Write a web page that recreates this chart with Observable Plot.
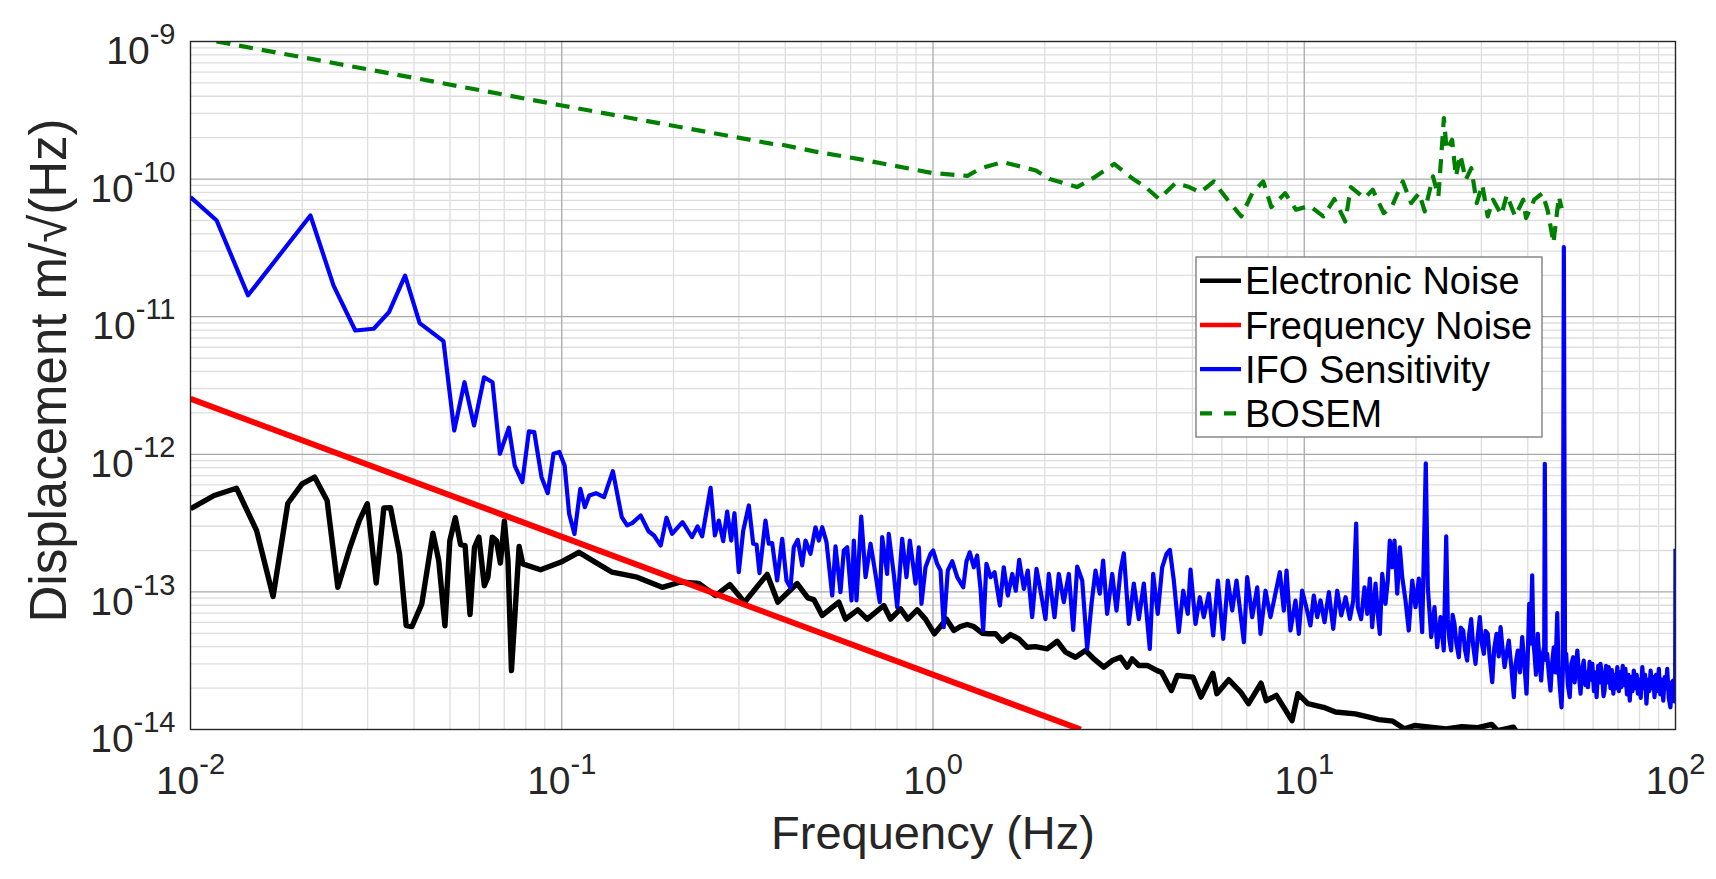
<!DOCTYPE html>
<html><head><meta charset="utf-8">
<script src="https://cdn.jsdelivr.net/npm/d3@7"></script>
<script src="https://cdn.jsdelivr.net/npm/@observablehq/plot@0.6"></script>
<style>
html,body{margin:0;padding:0;background:#fff;}
#wrap{position:relative;width:1716px;height:879px;overflow:hidden;background:#fff;}
</style></head><body><div id="wrap"></div>
<script>
// ---------- data (frequency Hz, displacement m/sqrt(Hz)) ----------
const electronicNoise = [[0.01,4.02e-13],[0.01158,5.02e-13],[0.0133,5.67e-13],[0.01507,2.79e-13],[0.01669,9.26e-14],[0.01829,4.41e-13],[0.01998,6.1e-13],[0.0216,6.82e-13],[0.02333,4.62e-13],[0.02494,1.08e-13],[0.02682,2.06e-13],[0.02849,3.3e-13],[0.02994,4.37e-13],[0.03164,1.16e-13],[0.03317,4.08e-13],[0.03457,4.1e-13],[0.03656,1.89e-13],[0.0381,5.7e-14],[0.0395,5.6e-14],[0.04198,8.19e-14],[0.04498,2.67e-13],[0.04663,1.69e-13],[0.04846,5.67e-14],[0.04995,2.36e-13],[0.05168,3.46e-13],[0.05339,2.21e-13],[0.05491,2.17e-13],[0.05661,6.85e-14],[0.05821,2.11e-13],[0.05982,2.5e-13],[0.06186,1.11e-13],[0.06326,1.28e-13],[0.06499,2.5e-13],[0.06668,2.36e-13],[0.06834,1.62e-13],[0.07006,3.27e-13],[0.07164,1.69e-13],[0.07321,2.68e-14],[0.07677,2.14e-13],[0.0785,1.6e-13],[0.08766,1.45e-13],[0.09922,1.64e-13],[0.1112,1.94e-13],[0.1233,1.64e-13],[0.1367,1.39e-13],[0.1596,1.28e-13],[0.1865,1.08e-13],[0.2089,1.18e-13],[0.2339,1.15e-13],[0.2595,9.41e-14],[0.2836,1.13e-13],[0.3107,8.42e-14],[0.3576,1.34e-13],[0.382,8.42e-14],[0.4307,1.15e-13],[0.4601,9.06e-14],[0.4775,8.8e-14],[0.5031,6.74e-14],[0.5577,8.42e-14],[0.5811,6.34e-14],[0.6271,7.41e-14],[0.6651,6.34e-14],[0.7371,7.96e-14],[0.7683,6.34e-14],[0.8177,7.53e-14],[0.8554,6.34e-14],[0.9066,7.41e-14],[0.9546,6.34e-14],[1.009,4.96e-14],[1.043,5.54e-14],[1.087,6.34e-14],[1.138,5.24e-14],[1.186,5.6e-14],[1.236,5.8e-14],[1.288,5.6e-14],[1.357,5.01e-14],[1.413,4.96e-14],[1.474,4.96e-14],[1.536,4.38e-14],[1.617,4.9e-14],[1.703,4.56e-14],[1.793,3.96e-14],[1.888,4.0e-14],[2.03,3.86e-14],[2.16,4.38e-14],[2.275,3.65e-14],[2.42,3.35e-14],[2.575,3.75e-14],[2.711,3.26e-14],[2.885,2.84e-14],[3.039,3.17e-14],[3.2,3.35e-14],[3.336,2.84e-14],[3.44,3.26e-14],[3.584,2.92e-14],[3.776,2.92e-14],[4.016,2.68e-14],[4.127,2.61e-14],[4.387,1.92e-14],[4.55,2.47e-14],[5.02,2.4e-14],[5.27,1.72e-14],[5.675,2.56e-14],[5.815,1.82e-14],[6.26,2.3e-14],[6.74,1.87e-14],[7.08,1.54e-14],[7.65,2.17e-14],[7.9,1.62e-14],[8.41,1.77e-14],[9.27,1.16e-14],[9.61,1.82e-14],[10.22,1.54e-14],[11.27,1.45e-14],[12.14,1.34e-14],[13.72,1.3e-14],[14.95,1.23e-14],[15.89,1.18e-14],[17.32,1.15e-14],[18.63,1.01e-14],[19.82,1.07e-14],[21.86,1.04e-14],[24.11,1.01e-14],[26.6,1.05e-14],[29.35,1.03e-14],[31.97,1.09e-14],[33.18,9.8e-15],[36.6,1.04e-14],[38.4,8.5e-15]];

const frequencyNoise = [[0.01,2.53e-12],[2.5,1.0e-14]];

const ifoSensitivity = [[0.01,7.4e-11],[0.01176,5.0e-11],[0.01429,1.43e-11],[0.02104,5.44e-11],[0.02427,1.69e-11],[0.02779,7.94e-12],[0.03115,8.17e-12],[0.03425,1.08e-11],[0.03784,1.99e-11],[0.04143,8.97e-12],[0.04802,6.64e-12],[0.05133,1.49e-12],[0.0547,3.34e-12],[0.05805,1.62e-12],[0.06177,3.63e-12],[0.06508,3.34e-12],[0.06813,1.01e-12],[0.07204,1.56e-12],[0.07469,8.29e-13],[0.0783,6.27e-13],[0.08157,1.47e-12],[0.08433,1.45e-12],[0.08821,6.82e-13],[0.09167,5.22e-13],[0.09502,1.01e-12],[0.09849,1.04e-12],[0.1018,8.29e-13],[0.1047,3.69e-13],[0.1082,2.64e-13],[0.1122,5.61e-13],[0.1154,4.13e-13],[0.1186,5.02e-13],[0.1236,5.22e-13],[0.13,4.88e-13],[0.1373,7.54e-13],[0.1451,3.49e-13],[0.15,3.04e-13],[0.1548,3.16e-13],[0.1631,3.59e-13],[0.1713,2.76e-13],[0.1772,2.57e-13],[0.1847,2.17e-13],[0.1915,3.46e-13],[0.1982,2.64e-13],[0.2115,3.21e-13],[0.2243,2.5e-13],[0.2321,2.99e-13],[0.2389,2.53e-13],[0.2517,5.71e-13],[0.2585,2.57e-13],[0.2649,3.3e-13],[0.2722,2.34e-13],[0.279,3.84e-13],[0.286,2.36e-13],[0.2919,3.73e-13],[0.2998,1.39e-13],[0.3082,2.79e-13],[0.3191,4.25e-13],[0.3279,2.24e-13],[0.3347,2.21e-13],[0.3409,1.37e-13],[0.3538,3.3e-13],[0.3611,2.24e-13],[0.3688,2.26e-13],[0.3804,1.21e-13],[0.3925,2.43e-13],[0.4031,1.21e-13],[0.4132,1.07e-13],[0.4217,2.11e-13],[0.4323,2.39e-13],[0.4443,1.56e-13],[0.4535,2.36e-13],[0.4677,1.89e-13],[0.4825,2.95e-13],[0.4925,2.36e-13],[0.5031,2.95e-13],[0.5166,2.3e-13],[0.5352,9.41e-14],[0.5463,2.14e-13],[0.5634,9.95e-14],[0.5751,2.0e-13],[0.5874,2.11e-13],[0.6033,8.66e-14],[0.612,2.36e-13],[0.6222,8.66e-14],[0.6407,3.53e-13],[0.6581,1.28e-13],[0.6787,2.24e-13],[0.6999,1.35e-13],[0.7188,8.42e-14],[0.7296,2.5e-13],[0.7524,1.35e-13],[0.76,2.64e-13],[0.784,1.35e-13],[0.8009,7.74e-14],[0.826,2.43e-13],[0.8484,1.28e-13],[0.866,2.36e-13],[0.8973,1.15e-13],[0.9158,2.11e-13],[0.9311,8.19e-14],[0.9546,1.51e-13],[0.9847,1.89e-13],[1.001,2.0e-13],[1.026,1.6e-13],[1.048,1.43e-13],[1.069,5.54e-14],[1.096,1.43e-13],[1.127,1.67e-13],[1.162,1.28e-13],[1.206,1.08e-13],[1.231,1.67e-13],[1.256,1.94e-13],[1.288,1.51e-13],[1.315,1.84e-13],[1.343,1.05e-13],[1.365,5.24e-14],[1.393,1.6e-13],[1.429,1.28e-13],[1.465,1.39e-13],[1.514,7.96e-14],[1.551,1.51e-13],[1.591,9.41e-14],[1.635,1.35e-13],[1.671,1.02e-13],[1.707,1.71e-13],[1.757,1.05e-13],[1.8,1.43e-13],[1.85,6.55e-14],[1.9,1.47e-13],[1.948,1.02e-13],[2.009,6.34e-14],[2.051,1.35e-13],[2.125,6.55e-14],[2.182,1.35e-13],[2.251,8.42e-14],[2.322,1.35e-13],[2.386,5.3e-14],[2.446,1.53e-13],[2.523,1.21e-13],[2.602,3.86e-14],[2.673,8.19e-14],[2.74,1.43e-13],[2.813,9.7e-14],[2.873,1.69e-13],[2.945,6.93e-14],[3.039,1.35e-13],[3.121,7.32e-14],[3.2,1.43e-13],[3.266,1.91e-13],[3.369,5.86e-14],[3.475,1.15e-13],[3.584,6.34e-14],[3.697,1.15e-13],[3.837,3.86e-14],[3.918,1.35e-13],[4.031,6.93e-14],[4.143,1.51e-13],[4.256,1.89e-13],[4.345,2.02e-13],[4.453,1.21e-13],[4.593,5.1e-14],[4.72,1.02e-13],[4.857,6.93e-14],[4.939,1.45e-13],[5.095,5.86e-14],[5.233,9.15e-14],[5.364,6.55e-14],[5.533,9.7e-14],[5.686,4.82e-14],[5.851,1.21e-13],[6.05,4.56e-14],[6.225,1.21e-13],[6.397,7.32e-14],[6.57,1.21e-13],[6.877,4.31e-14],[7.02,1.28e-13],[7.24,6.55e-14],[7.47,1.08e-13],[7.625,4.96e-14],[7.863,1.02e-13],[8.11,6.55e-14],[8.595,1.39e-13],[8.81,7.32e-14],[8.96,1.43e-13],[9.18,5.24e-14],[9.47,8.66e-14],[9.67,4.96e-14],[9.87,1.02e-13],[10.18,7.32e-14],[10.39,5.7e-14],[10.61,9.41e-14],[10.84,6.55e-14],[11.06,8.66e-14],[11.34,6.02e-14],[11.65,9.95e-14],[11.97,5.39e-14],[12.27,1.02e-13],[12.58,6.74e-14],[12.92,9.15e-14],[13.27,6.37e-14],[13.55,8.66e-14],[13.8,3.13e-13],[13.94,7.74e-14],[14.23,6.34e-14],[14.53,1.08e-13],[14.78,6.93e-14],[15.02,1.25e-13],[15.24,5.54e-14],[15.56,1.15e-13],[15.78,6.93e-14],[15.98,4.96e-14],[16.22,1.35e-13],[16.55,8.19e-14],[16.79,1.21e-13],[17.0,2.36e-13],[17.26,1.51e-13],[17.5,2.36e-13],[17.8,9.7e-14],[18.09,2.11e-13],[18.36,1.28e-13],[18.74,8.66e-14],[19.12,5.24e-14],[19.54,1.21e-13],[19.94,7.74e-14],[20.35,1.25e-13],[20.78,5.1e-14],[21.25,8.61e-13],[21.52,1.08e-13],[21.98,4.69e-14],[22.43,7.74e-14],[22.81,3.96e-14],[23.28,6.55e-14],[23.76,3.75e-14],[24.12,2.53e-13],[24.36,6.34e-14],[24.6,4.5e-14],[24.87,3.75e-14],[25.1,6.8e-14],[25.39,5.86e-14],[25.7,4.2e-14],[26.08,3.35e-14],[26.4,5.5e-14],[26.8,5.24e-14],[27.1,3.8e-14],[27.47,3.17e-14],[27.8,4.9e-14],[28.16,6.34e-14],[28.5,4.1e-14],[28.93,3.0e-14],[29.3,4.6e-14],[29.71,6.55e-14],[30.1,4.2e-14],[30.46,3.55e-14],[30.8,5.2e-14],[31.22,4.96e-14],[31.6,3.3e-14],[32.09,2.21e-14],[32.5,3.9e-14],[32.96,4.96e-14],[33.4,3.4e-14],[33.79,5.54e-14],[34.2,3.9e-14],[34.64,2.84e-14],[35.1,3.6e-14],[35.56,4.43e-14],[36.1,2.9e-14],[36.69,1.72e-14],[37.1,3.0e-14],[37.6,3.75e-14],[38.1,2.6e-14],[38.65,4.69e-14],[39.2,2.9e-14],[39.69,1.82e-14],[40.0,3.4e-14],[40.36,8.19e-14],[40.7,4.2e-14],[41.11,1.32e-13],[41.4,4.5e-14],[41.7,3.55e-14],[42.1,2.5e-14],[42.56,4.96e-14],[43.0,3.2e-14],[43.47,2.27e-14],[43.9,3.5e-14],[44.3,4.0e-14],[44.46,8.53e-13],[44.7,3.2e-14],[45.12,3.55e-14],[45.6,2.5e-14],[46.06,1.92e-14],[46.5,3.0e-14],[47.01,3.96e-14],[47.5,2.6e-14],[48.02,7.0e-14],[48.4,2.8e-14],[48.8,2.03e-14],[49.32,1.45e-14],[49.7,2.6e-14],[50.03,3.2e-11],[50.4,2.8e-14],[50.77,3.55e-14],[51.3,2.1e-14],[51.9,1.72e-14],[52.4,3.0e-14],[53.0,3.35e-14],[53.5,2.2e-14],[54.0,2.9e-14],[54.4,3.75e-14],[55.0,2.4e-14],[55.5,1.82e-14],[56.0,2.7e-14],[56.6,3.17e-14],[57.2,2.1e-14],[57.6,2.6e-14],[58.1,2.03e-14],[58.7,3.1e-14],[59.2,2.3e-14],[59.7,3.0e-14],[60.3,1.9e-14],[60.8,2.6e-14],[61.3,1.72e-14],[61.9,2.9e-14],[62.4,2.2e-14],[62.8,3.0e-14],[63.5,2.4e-14],[64.0,1.75e-14],[64.4,1.92e-14],[65.0,2.9e-14],[65.6,2.2e-14],[66.1,2.84e-14],[66.8,2.0e-14],[67.4,2.7e-14],[68.0,1.82e-14],[68.6,2.5e-14],[69.1,2.0e-14],[69.7,2.84e-14],[70.4,1.9e-14],[70.9,2.6e-14],[71.4,2.03e-14],[72.1,2.9e-14],[72.7,2.1e-14],[73.3,2.76e-14],[74.0,1.8e-14],[74.7,2.5e-14],[75.3,1.62e-14],[76.0,2.4e-14],[76.6,1.9e-14],[77.2,2.68e-14],[78.0,2.0e-14],[78.6,2.5e-14],[79.2,1.82e-14],[79.9,2.3e-14],[80.6,1.7e-14],[81.4,2.84e-14],[82.1,2.0e-14],[82.8,2.5e-14],[83.5,1.54e-14],[84.3,2.3e-14],[85.0,1.9e-14],[85.7,2.68e-14],[86.5,2.0e-14],[87.1,2.4e-14],[87.8,1.72e-14],[88.6,2.5e-14],[89.4,1.9e-14],[90.2,2.76e-14],[91.0,1.8e-14],[91.8,2.3e-14],[92.7,1.62e-14],[93.5,2.4e-14],[94.3,2.0e-14],[95.0,2.76e-14],[95.9,1.7e-14],[96.9,1.45e-14],[97.7,2.2e-14],[98.6,2.27e-14],[99.3,1.6e-14],[99.8,2.3e-14],[100,2.06e-13]];

const bosem = [[0.01175,1.0e-9],[0.0308,6.2e-10],[0.1,3.43e-10],[0.366,1.81e-10],[0.3903,1.78e-10],[0.4786,1.59e-10],[0.6497,1.38e-10],[0.8524,1.2e-10],[1.0,1.105e-10],[1.238,1.057e-10],[1.348,1.2e-10],[1.544,1.33e-10],[1.894,1.156e-10],[2.062,1.0e-10],[2.443,8.75e-11],[2.705,1.02e-10],[3.077,1.29e-10],[3.43,1.02e-10],[3.736,8.75e-11],[4.066,7.16e-11],[4.501,9.35e-11],[4.9,8.75e-11],[5.246,8.0e-11],[5.71,9.62e-11],[5.907,8.46e-11],[6.217,7.08e-11],[6.767,5.36e-11],[7.243,7.91e-11],[7.753,9.62e-11],[8.155,6.26e-11],[8.88,7.91e-11],[9.504,5.99e-11],[10.34,6.4e-11],[11.26,5.36e-11],[12.05,7.16e-11],[12.9,4.92e-11],[13.35,8.75e-11],[14.53,7.27e-11],[15.29,8.37e-11],[16.37,5.66e-11],[17.22,6.33e-11],[18.43,9.62e-11],[19.4,6.69e-11],[20.4,7.91e-11],[21.11,5.82e-11],[22.22,1.046e-10],[22.98,7.48e-11],[23.78,2.78e-10],[24.18,1.63e-10],[25.02,1.93e-10],[25.62,1.046e-10],[26.33,1.5e-10],[27.23,9.89e-11],[28.18,1.2e-10],[29.15,6.69e-11],[30.16,9.1e-11],[31.2,5.36e-11],[32.27,7.08e-11],[33.96,5.5e-11],[35.13,7.69e-11],[36.97,5.36e-11],[38.9,7.08e-11],[39.57,5.21e-11],[41.65,7.08e-11],[43.82,7.91e-11],[45.33,5.82e-11],[46.9,3.43e-11],[48.52,7.48e-11],[49.35,6.15e-11]];

const seriesNames = ["Electronic Noise", "Frequency Noise", "IFO Sensitivity", "BOSEM"];
const xTicks = [1e-2, 1e-1, 1e0, 1e1, 1e2];
const yTicks = [1e-14, 1e-13, 1e-12, 1e-11, 1e-10, 1e-9];
const xLabel = "Frequency (Hz)";
const yLabel = "Displacement m/\u221A(Hz)";

// ---------- helpers ----------
const rows = arr => arr.map(([f, v]) => ({f, v}));
const minorOf = ticks => {
  const out = [];
  for (let i = 0; i < ticks.length - 1; i++) for (let m = 2; m < 10; m++) out.push(ticks[i] * m);
  return out;
};
const xMinor = minorOf(xTicks), yMinor = minorOf(yTicks);
const expLabel = d => "10^" + Math.round(Math.log10(d));

const FONT = "'Liberation Sans', Arial, Helvetica, sans-serif";
const INK = "#262626";
const styles = {
  "Electronic Noise": {stroke: "#000000", strokeWidth: 5.4},
  "Frequency Noise": {stroke: "#ff0000", strokeWidth: 6},
  "IFO Sensitivity": {stroke: "#0000ff", strokeWidth: 4.2},
  "BOSEM": {stroke: "#008000", strokeWidth: 4.2, strokeDasharray: "14,9"}
};
const dataBy = {
  "Electronic Noise": electronicNoise,
  "Frequency Noise": frequencyNoise,
  "IFO Sensitivity": ifoSensitivity,
  "BOSEM": bosem
};

const chart = Plot.plot({
  width: 1716, height: 879,
  marginLeft: 190, marginRight: 41, marginTop: 41, marginBottom: 150,
  x: {type: "log", domain: [1e-2, 1e2], axis: null},
  y: {type: "log", domain: [1e-14, 1e-9], axis: null},
  style: {fontFamily: FONT, background: "#fff", color: INK},
  marks: [
    Plot.ruleX(xMinor, {stroke: "#dedede", strokeWidth: 1.3}),
    Plot.ruleY(yMinor, {stroke: "#dedede", strokeWidth: 1.3}),
    Plot.ruleX(xTicks.slice(1, -1), {stroke: "#a9a9a9", strokeWidth: 1.3}),
    Plot.ruleY(yTicks.slice(1, -1), {stroke: "#a9a9a9", strokeWidth: 1.3}),
    ...seriesNames.map(name => Plot.line(rows(dataBy[name]), {
      x: "f", y: "v", ...styles[name],
      strokeLinejoin: "round", strokeLinecap: "butt", clip: true
    })),
    Plot.frame({stroke: INK, strokeWidth: 1.4}),
    Plot.text(xTicks, {x: d => d, frameAnchor: "bottom", dy: 64, lineAnchor: "bottom",
      textAnchor: "middle", text: expLabel, fontSize: 39, fill: INK}),
    Plot.text(yTicks, {y: d => d, frameAnchor: "left", dx: -15, dy: 22.7, lineAnchor: "bottom",
      textAnchor: "end", text: expLabel, fontSize: 39, fill: INK}),
    Plot.text([xLabel], {frameAnchor: "bottom", dy: 119, lineAnchor: "bottom",
      textAnchor: "middle", text: d => d, fontSize: 47, fill: INK}),
    Plot.text([yLabel], {frameAnchor: "left", dx: -125, dy: -15, rotate: -90, lineAnchor: "bottom",
      textAnchor: "middle", text: d => d, fontSize: 51, fill: INK})
  ]
});

// superscript exponents in tick labels
d3.select(chart).selectAll("text").each(function () {
  const m = /^10\^(-?\d+)$/.exec(this.textContent);
  if (!m) return;
  const t = d3.select(this);
  t.text(null);
  t.append("tspan").attr("font-size", 39).text("10");
  t.append("tspan").attr("font-size", 29).attr("dy", -20).text(m[1]);
});

const wrap = document.getElementById("wrap");
wrap.appendChild(chart);

// legend overlay
const lg = d3.create("svg").attr("width", 1716).attr("height", 879)
  .style("position", "absolute").style("left", "0px").style("top", "0px")
  .style("font-family", FONT);
const box = {x: 1196, y: 257, w: 346, h: 180};
lg.append("rect").attr("x", box.x).attr("y", box.y).attr("width", box.w).attr("height", box.h)
  .attr("fill", "#fff").attr("stroke", "#7f7f7f").attr("stroke-width", 1.4);
seriesNames.forEach((name, i) => {
  const cy = box.y + 23.7 + i * 44.2;
  const s = styles[name];
  lg.append("line").attr("x1", box.x + 4).attr("x2", box.x + 45).attr("y1", cy).attr("y2", cy)
    .attr("stroke", s.stroke).attr("stroke-width", Math.min(s.strokeWidth, 4.5))
    .attr("stroke-dasharray", s.strokeDasharray ? "12,12" : null);
  lg.append("text").attr("x", box.x + 49).attr("y", cy + 13.6).attr("font-size", 38)
    .attr("fill", "#000").text(name);
});
wrap.appendChild(lg.node());
</script>
</body></html>
